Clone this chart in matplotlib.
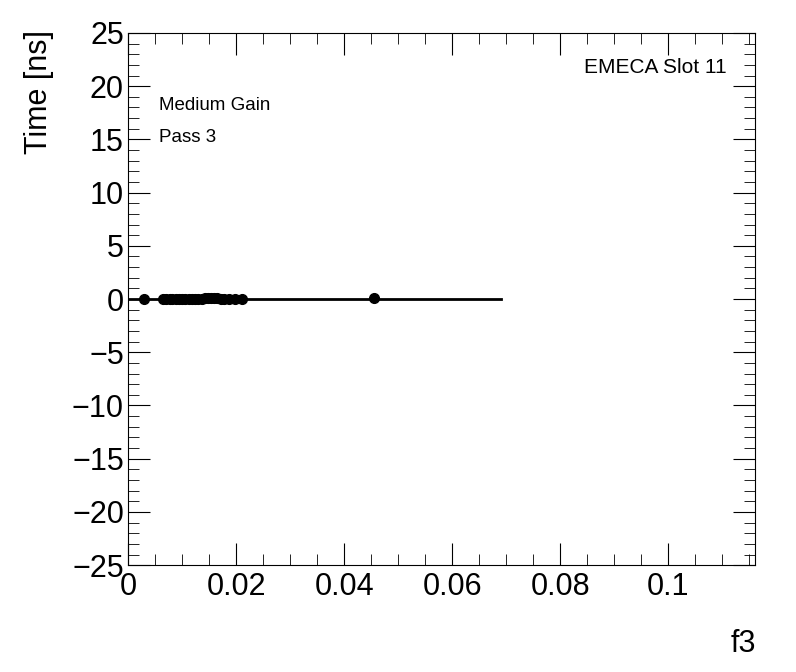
import numpy as np
import matplotlib.pyplot as plt
from matplotlib.ticker import MultipleLocator

plt.rcParams['font.family'] = ['Liberation Sans', 'DejaVu Sans']

# data
f3 = [0.0030, 0.0065, 0.0071, 0.0077, 0.0082, 0.0088, 0.0094, 0.0100, 0.0106,
      0.0112, 0.0118, 0.0124, 0.0130, 0.0136, 0.0142, 0.0148, 0.0153, 0.0159,
      0.0165, 0.0171, 0.0177, 0.0187, 0.0198, 0.0211, 0.0455]
time_ns = [0.0, 0.0, 0.0, 0.0, 0.0, 0.0, 0.0, 0.0, 0.0,
           0.0, 0.0, 0.0, 0.0, 0.05, 0.1, 0.1, 0.1, 0.1,
           0.1, 0.05, 0.05, 0.05, 0.05, 0.05, 0.1]
fit_x = [0.0, 0.069]
fit_y = [0.0, 0.0]

fig = plt.figure(figsize=(7.96, 6.72), dpi=100)
ax = fig.add_axes([0.161, 0.159, 0.787, 0.792])

ax.plot(fit_x, fit_y, color="black", lw=2)
ax.plot(f3, time_ns, 'o', color="black", ms=7)

ax.set_xlim(0, 0.116)
ax.set_ylim(-25, 25)
ax.xaxis.set_major_locator(MultipleLocator(0.02))
ax.xaxis.set_minor_locator(MultipleLocator(0.005))
ax.yaxis.set_major_locator(MultipleLocator(5))
ax.yaxis.set_minor_locator(MultipleLocator(1))
ax.tick_params(which='both', direction='in', top=True, right=True, labelsize=22)
ax.tick_params(which='major', length=16)
ax.tick_params(which='minor', length=8)
ax.set_xticks([0, 0.02, 0.04, 0.06, 0.08, 0.1])
ax.set_xticklabels(['0', '0.02', '0.04', '0.06', '0.08', '0.1'])
ax.tick_params(axis='x', pad=5)
ax.tick_params(axis='y', pad=3)

ax.set_ylabel("Time [ns]", fontsize=22)
ax.yaxis.set_label_coords(-0.118, 1.005, transform=ax.transAxes)
ax.yaxis.label.set_ha('right')
fig.text(0.95, 0.03, "f3", fontsize=22, ha='right')

ax.text(0.955, 0.925, "EMECA Slot 11", transform=ax.transAxes, ha='right', fontsize=15)
ax.text(0.05, 0.855, "Medium Gain", transform=ax.transAxes, fontsize=13.5)
ax.text(0.05, 0.795, "Pass 3", transform=ax.transAxes, fontsize=13.5)

fig.savefig("out.png", dpi=100)
